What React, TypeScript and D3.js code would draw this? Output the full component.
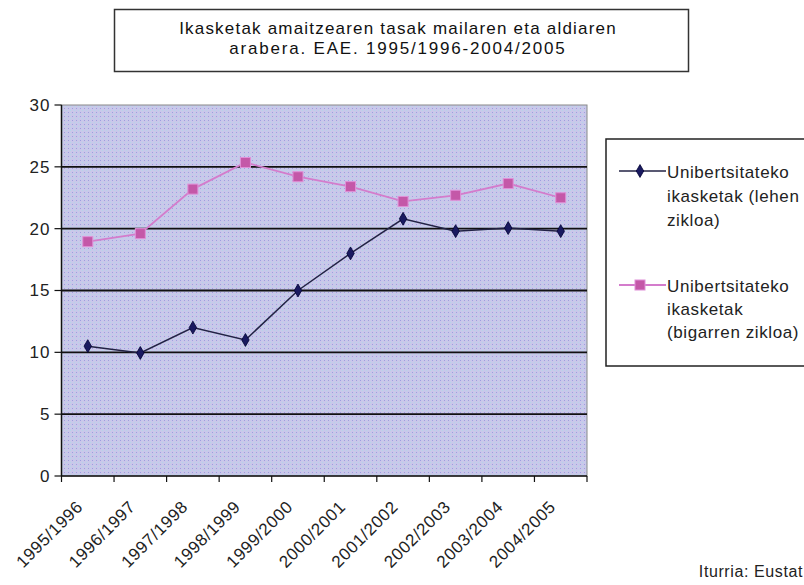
import React from "react";
import * as d3 from "d3";

const categories = ["1995/1996", "1996/1997", "1997/1998", "1998/1999", "1999/2000", "2000/2001", "2001/2002", "2002/2003", "2003/2004", "2004/2005"];
const lehenZikloa = [10.5, 9.95, 12.0, 11.0, 15.0, 18.0, 20.8, 19.8, 20.05, 19.8];
const bigarrenZikloa = [18.95, 19.6, 23.2, 25.35, 24.2, 23.4, 22.2, 22.7, 23.65, 22.5];
const yTicks = [0, 5, 10, 15, 20, 25, 30];
const titleLines = ["Ikasketak amaitzearen tasak mailaren eta aldiaren", "arabera. EAE. 1995/1996-2004/2005"];
const legend1 = ["Unibertsitateko", "ikasketak (lehen", "zikloa)"];
const legend2 = ["Unibertsitateko", "ikasketak", "(bigarren zikloa)"];
const source = "Iturria: Eustat";

const W = 804;
const H = 585;
const FONT = "'Liberation Sans', Arial, sans-serif";

export default function App() {
  const x = d3.scaleBand<string>().domain(categories).range([61.5, 587]);
  const y = d3.scaleLinear().domain([0, 30]).range([476, 105]);
  const cx = (c: string) => (x(c) as number) + x.bandwidth() / 2;
  const line = d3
    .line<number>()
    .x((_, i) => cx(categories[i]))
    .y((d) => y(d));
  const [x0, x1] = x.range();
  const diamond = d3.symbol(d3.symbolDiamond, 48)() as string;
  const boundaries = categories.map((c) => x(c) as number).concat([x1]);

  return (
    <svg width={W} height={H} style={{ position: "absolute", left: 0, top: 0, background: "#fff" }} fontFamily={FONT}>
      <defs>
        <pattern id="dots" width="4" height="4" patternUnits="userSpaceOnUse">
          <rect width="4" height="4" fill="#c9c8ea" />
          <rect x="0" y="0" width="1" height="1" fill="#a09ddf" />
          <rect x="2" y="2" width="1" height="1" fill="#b4d8e8" />
        </pattern>
      </defs>
      {/* Title box */}
      <rect x={114.5} y={9.5} width={574} height={62} fill="#fff" stroke="#333" strokeWidth={1.5} />
      {titleLines.map((t, i) => (
        <text key={i} x={398} y={34 + i * 20} textAnchor="middle" fontSize={17} letterSpacing={i === 0 ? 1.2 : 1.8} fill="#111">
          {t}
        </text>
      ))}
      {/* Plot area */}
      <rect x={x0} y={y(30)} width={x1 - x0} height={y(0) - y(30)} fill="url(#dots)" stroke="#888" strokeWidth={1} />
      {yTicks.filter((v) => v > 0 && v < 30).map((v) => (
        <line key={v} x1={x0} x2={x1} y1={y(v)} y2={y(v)} stroke="#111" strokeWidth={1.8} />
      ))}
      {/* Axes */}
      <line x1={x0} x2={x0} y1={y(30)} y2={y(0)} stroke="#111" strokeWidth={1.5} />
      <line x1={x0} x2={x1} y1={y(0)} y2={y(0)} stroke="#111" strokeWidth={1.5} />
      {yTicks.map((v) => (
        <g key={v}>
          <line x1={x0 - 7} x2={x0} y1={y(v)} y2={y(v)} stroke="#111" strokeWidth={1.2} />
          <text x={x0 - 11} y={y(v)} dy="0.35em" textAnchor="end" fontSize={17} letterSpacing={1} fill="#222">
            {v}
          </text>
        </g>
      ))}
      {boundaries.map((b, i) => (
        <line key={i} x1={b} x2={b} y1={y(0)} y2={y(0) + 6} stroke="#111" strokeWidth={1.2} />
      ))}
      {categories.map((c) => (
        <text
          key={c}
          transform={`translate(${cx(c) - 4},${y(0) + 32}) rotate(-45)`}
          textAnchor="end"
          fontSize={17}
          letterSpacing={0.6}
          fill="#222"
        >
          {c}
        </text>
      ))}
      {/* Series */}
      <path d={line(bigarrenZikloa) as string} fill="none" stroke="#d47ccc" strokeWidth={1.8} />
      {bigarrenZikloa.map((v, i) => (
        <rect key={i} x={cx(categories[i]) - 5} y={y(v) - 5} width={10} height={10} fill="#c458a8" stroke="#e090d8" strokeWidth={1} />
      ))}
      <path d={line(lehenZikloa) as string} fill="none" stroke="#222244" strokeWidth={1.5} />
      {lehenZikloa.map((v, i) => (
        <path key={i} d={diamond} transform={`translate(${cx(categories[i])},${y(v)})`} fill="#1a1a60" stroke="#000033" strokeWidth={0.8} />
      ))}
      {/* Legend */}
      <rect x={606} y={139} width={210} height={227} fill="#fff" stroke="#222" strokeWidth={1.5} />
      <line x1={619} x2={666} y1={171} y2={171} stroke="#222244" strokeWidth={1.5} />
      <path d={diamond} transform="translate(640,171)" fill="#1a1a60" stroke="#000033" strokeWidth={0.8} />
      {legend1.map((t, i) => (
        <text key={i} x={667} y={172 + i * 24} dy="0.35em" fontSize={17} letterSpacing={0.6} fill="#222">
          {t}
        </text>
      ))}
      <line x1={619} x2={666} y1={285} y2={285} stroke="#d47ccc" strokeWidth={1.8} />
      <rect x={635} y={280} width={10} height={10} fill="#c458a8" stroke="#e090d8" strokeWidth={1} />
      {legend2.map((t, i) => (
        <text key={i} x={667} y={286 + i * 23} dy="0.35em" fontSize={17} letterSpacing={0.6} fill="#222">
          {t}
        </text>
      ))}
      <text x={803} y={577} textAnchor="end" fontSize={16} letterSpacing={0.6} fill="#222">
        {source}
      </text>
    </svg>
  );
}
